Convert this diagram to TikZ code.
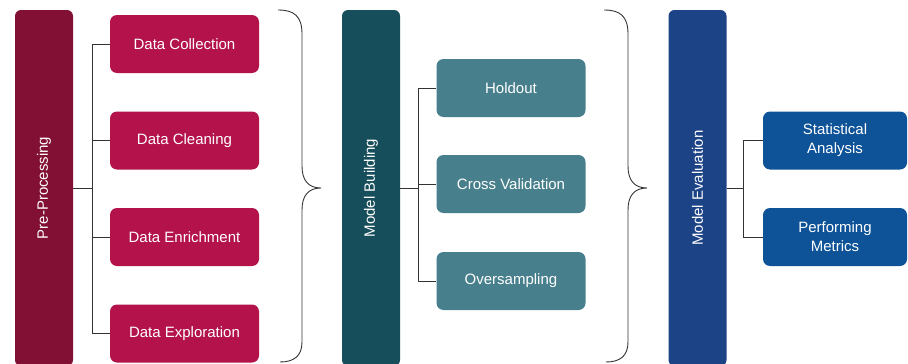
\documentclass[tikz,border=0pt]{standalone}
\usepackage{fontspec}
\setmainfont{Liberation Sans}
\usepackage{graphicx}
\usepackage{xcolor}
\definecolor{preBar}{HTML}{820F34}
\definecolor{preBox}{HTML}{B3124B}
\definecolor{buildBar}{HTML}{174E5B}
\definecolor{buildBox}{HTML}{47808C}
\definecolor{evalBar}{HTML}{1C4385}
\definecolor{evalBox}{HTML}{0E5297}
\definecolor{lineGray}{HTML}{333333}

\begin{document}
\begin{tikzpicture}[x=1pt,y=-1pt,
  every node/.style={font=\fontsize{15}{19}\selectfont,text=white,inner sep=0pt,align=center},
  bar/.style={rounded corners=6pt,minimum width=58pt,minimum height=356pt},
  box/.style={rounded corners=7pt,minimum width=149pt,minimum height=58pt},
  link/.style={draw=lineGray,line width=0.9pt},
  curly/.style={draw=lineGray,line width=0.9pt}]
\useasboundingbox (0,0) rectangle (908,364);
\node[bar,fill=preBar] (pre) at (44,188) {\rotatebox{90}{Pre-Processing}};
\node[bar,fill=buildBar] (build) at (371,188) {\rotatebox{90}{Model Building}};
\node[bar,fill=evalBar] (eval) at (697.5,188) {\rotatebox{90}{Model Evaluation}};
\node[box,fill=preBox] (dcol) at (184.5,44) {Data Collection};
\node[box,fill=preBox] (dcln) at (184.5,140.5) {Data Cleaning};
\node[box,fill=preBox] (denr) at (184.5,237) {Data Enrichment};
\node[box,fill=preBox] (dexp) at (184.5,333.5) {Data Exploration};
\node[box,fill=buildBox] (hold) at (511,88) {Holdout};
\node[box,fill=buildBox] (cval) at (511,184) {Cross Validation};
\node[box,fill=buildBox] (over) at (511,281) {Oversampling};
\node[box,fill=evalBox,minimum width=144pt] (stat) at (835,140.5) {Statistical\\Analysis};
\node[box,fill=evalBox,minimum width=144pt] (perf) at (835,237) {Performing\\Metrics};
\draw[link] (pre.east) -- ++(19,0) coordinate (jpre);
\draw[link] (build.east) -- ++(18,0) coordinate (jbuild);
\draw[link] (eval.east) -- ++(17,0) coordinate (jeval);
\foreach \n in {dcol,dcln,denr,dexp} \draw[link] (jpre) |- (\n.west);
\foreach \n in {hold,cval,over} \draw[link] (jbuild) |- (\n.west);
\foreach \n in {stat,perf} \draw[link] (jeval) |- (\n.west);
\foreach \bx in {278,604}
  \draw[curly] (\bx,10) .. controls (\bx+16,10) and (\bx+24,16) .. (\bx+24,34)
    -- (\bx+24,166) .. controls (\bx+24,180) and (\bx+30,188) .. (\bx+43,188)
    .. controls (\bx+30,188) and (\bx+24,196) .. (\bx+24,210)
    -- (\bx+24,342) .. controls (\bx+24,356) and (\bx+16,362) .. (\bx+2,362);
\end{tikzpicture}
\end{document}
